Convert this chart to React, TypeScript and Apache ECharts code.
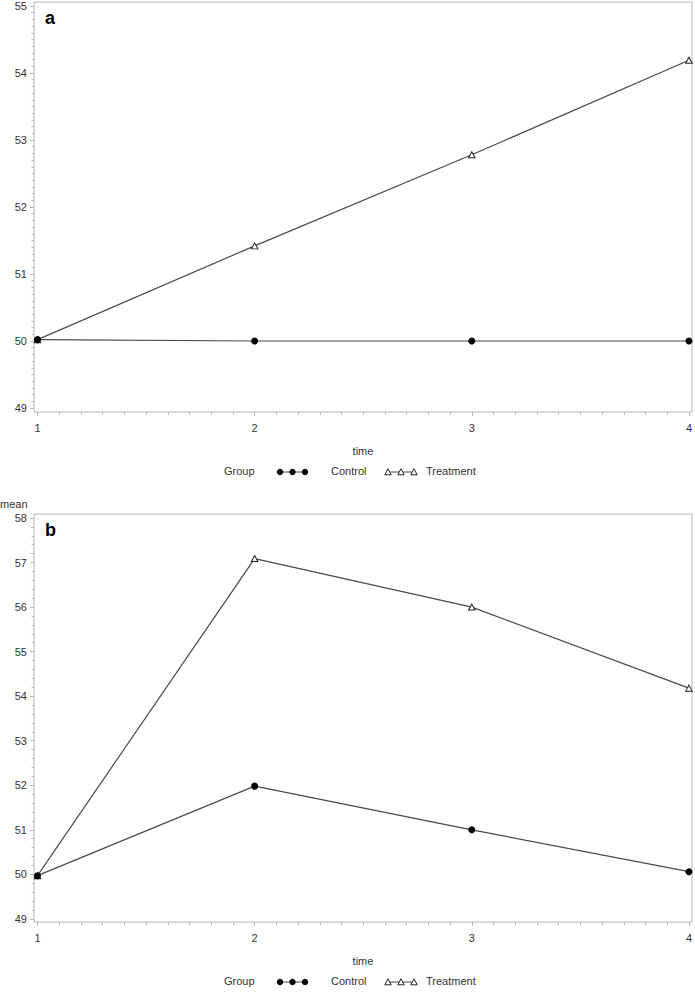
import React, { useEffect, useRef } from "react";
import * as echarts from "echarts";

// ---- data ----
const timePoints = [1, 2, 3, 4];
const xTickLabels = [1, 2, 3, 4];
const controlA = [50.02, 50.0, 50.0, 50.0];
const treatmentA = [50.02, 51.42, 52.78, 54.19];
const controlB = [49.97, 51.98, 51.0, 50.06];
const treatmentB = [49.97, 57.09, 56.0, 54.18];
const yTicksA = [49, 50, 51, 52, 53, 54, 55];
const yTicksB = [49, 50, 51, 52, 53, 54, 55, 56, 57, 58];
const groupNames = ["Control", "Treatment"];

const steps = (a: number, b: number, s: number) => {
  const out: number[] = [];
  const n = Math.round((b - a) / s);
  for (let i = 0; i <= n; i++) out.push(Math.round((a + i * s) * 1000) / 1000);
  return out;
};

const FRAME = "#b8b8b8";
const TEXT = "#333";
const LINE = "#4a4a4a";
const FONT = "Liberation Sans, Arial, sans-serif";

export default function App() {
  const ref = useRef<HTMLDivElement>(null);
  useEffect(() => {
    if (!ref.current) return;
    const chart = echarts.init(ref.current, null, { renderer: "svg" });

    const xMin = 0.984;
    const xMax = 4.014;

    const xAxisMajor = (grid: number) => ({
      type: "value",
      gridIndex: grid,
      min: xMin,
      max: xMax,
      position: "bottom",
      name: "time",
      nameLocation: "middle",
      nameGap: 33,
      nameTextStyle: { color: TEXT, fontSize: 11, fontFamily: FONT },
      axisLine: { show: false },
      splitLine: { show: false },
      axisTick: { show: true, length: 4, customValues: xTickLabels, lineStyle: { color: FRAME } },
      axisLabel: { show: true, customValues: xTickLabels, margin: 10, color: TEXT, fontSize: 11, fontFamily: FONT },
    });
    const xAxisMinor = (grid: number) => ({
      type: "value",
      gridIndex: grid,
      min: xMin,
      max: xMax,
      position: "bottom",
      axisLine: { show: false },
      splitLine: { show: false },
      axisLabel: { show: false },
      axisTick: { show: true, length: 3, customValues: steps(1, 4, 0.1), lineStyle: { color: FRAME } },
    });
    const yAxisMajor = (grid: number, min: number, max: number, ticks: number[]) => ({
      type: "value",
      gridIndex: grid,
      min,
      max,
      position: "left",
      axisLine: { show: false },
      splitLine: { show: false },
      axisTick: { show: true, length: 4, customValues: ticks, lineStyle: { color: FRAME } },
      axisLabel: { show: true, customValues: ticks, margin: 7, color: TEXT, fontSize: 11, fontFamily: FONT },
    });
    const yAxisMinor = (grid: number, min: number, max: number, minor: number[]) => ({
      type: "value",
      gridIndex: grid,
      min,
      max,
      position: "left",
      axisLine: { show: false },
      splitLine: { show: false },
      axisLabel: { show: false },
      axisTick: { show: true, length: 2.5, customValues: minor, lineStyle: { color: FRAME } },
    });

    const mk = (vals: number[]) => timePoints.map((t, i) => [t, vals[i]]);
    const ctrl = (grid: number, vals: number[]) => ({
      type: "line",
      name: groupNames[0],
      xAxisIndex: grid * 2,
      yAxisIndex: grid * 2,
      data: mk(vals),
      symbol: "circle",
      symbolSize: 7,
      z: 3,
      itemStyle: { color: "#000" },
      lineStyle: { color: LINE, width: 1.2 },
    });
    const trt = (grid: number, vals: number[]) => ({
      type: "line",
      name: groupNames[1],
      xAxisIndex: grid * 2,
      yAxisIndex: grid * 2,
      data: mk(vals),
      symbol: "triangle",
      symbolSize: [6.5, 6],
      z: 2,
      itemStyle: { color: "#fff", borderColor: "#222", borderWidth: 1 },
      lineStyle: { color: LINE, width: 1.2 },
    });

    const legend = (cy: number) => {
      const els: any[] = [];
      els.push({ type: "text", left: 224, top: cy - 7, style: { text: "Group", fill: TEXT, font: `11px ${FONT}` } });
      els.push({ type: "line", shape: { x1: 280, y1: cy, x2: 305, y2: cy }, style: { stroke: LINE, lineWidth: 1 } });
      [280, 292.5, 305].forEach((cx) =>
        els.push({ type: "circle", shape: { cx, cy, r: 3.2 }, style: { fill: "#000" } })
      );
      els.push({ type: "text", left: 331, top: cy - 7, style: { text: groupNames[0], fill: TEXT, font: `11px ${FONT}` } });
      els.push({ type: "line", shape: { x1: 388, y1: cy, x2: 414, y2: cy }, style: { stroke: LINE, lineWidth: 1 } });
      [388, 401, 414].forEach((cx) =>
        els.push({
          type: "polygon",
          shape: { points: [[cx - 3.2, cy + 2.8], [cx + 3.2, cy + 2.8], [cx, cy - 3.2]] },
          style: { fill: "#fff", stroke: "#222", lineWidth: 1 },
        })
      );
      els.push({ type: "text", left: 426, top: cy - 7, style: { text: groupNames[1], fill: TEXT, font: `11px ${FONT}` } });
      return els;
    };

    chart.setOption({
      animation: false,
      backgroundColor: "#fff",
      grid: [
        { left: 34, top: 2, width: 658, height: 410, show: true, borderColor: FRAME, borderWidth: 1, backgroundColor: "transparent" },
        { left: 34, top: 514, width: 658, height: 408, show: true, borderColor: FRAME, borderWidth: 1, backgroundColor: "transparent" },
      ],
      xAxis: [xAxisMajor(0), xAxisMinor(0), xAxisMajor(1), xAxisMinor(1)],
      yAxis: [
        yAxisMajor(0, 48.94, 55.06, yTicksA),
        yAxisMinor(0, 48.94, 55.06, steps(49, 55, 0.1)),
        yAxisMajor(1, 48.93, 58.09, yTicksB),
        yAxisMinor(1, 48.93, 58.09, steps(49, 58, 0.2)),
      ],
      series: [trt(0, treatmentA), ctrl(0, controlA), trt(1, treatmentB), ctrl(1, controlB)],
      graphic: [
        { type: "text", left: 45, top: 9, style: { text: "a", fill: "#000", font: `bold 18px ${FONT}` } },
        { type: "text", left: 45, top: 521, style: { text: "b", fill: "#000", font: `bold 18px ${FONT}` } },
        { type: "text", left: 0, top: 498, style: { text: "mean", fill: TEXT, font: `11px ${FONT}` } },
        ...legend(472),
        ...legend(982),
      ],
    });
    return () => chart.dispose();
  }, []);
  return <div ref={ref} style={{ position: "absolute", left: 0, top: 0, width: 695, height: 992 }} />;
}
